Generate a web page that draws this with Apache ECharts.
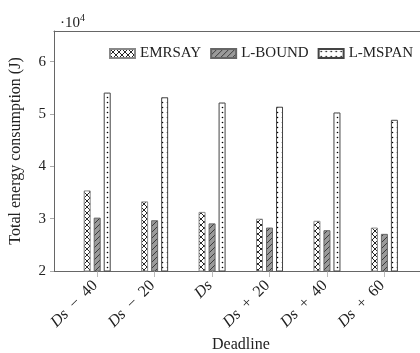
<!DOCTYPE html>
<html>
<head>
<meta charset="utf-8">
<script src="https://cdn.jsdelivr.net/npm/echarts@6/dist/echarts.min.js"></script>
<style>html,body{margin:0;padding:0;background:#fff}#c{width:420px;height:353px}</style>
</head>
<body>
<div id="c"></div>
<script>
// ---- data (values in units of 10^4 J) ----
var categories = ['Ds − 40', 'Ds − 20', 'Ds', 'Ds + 20', 'Ds + 40', 'Ds + 60'];
var seriesNames = ['EMRSAY', 'L-BOUND', 'L-MSPAN'];
var emrsay = [3.54, 3.33, 3.13, 3.00, 2.96, 2.83];
var lbound = [3.02, 2.97, 2.91, 2.83, 2.78, 2.71];
var lmspan = [5.41, 5.32, 5.22, 5.14, 5.03, 4.89];
var yTicks = [2, 3, 4, 5, 6];

// ---- patterns ----
function tile(w, h, draw) {
  var c = document.createElement('canvas');
  c.width = w; c.height = h;
  var g = c.getContext('2d');
  draw(g, w, h);
  return { image: c, repeat: 'repeat' };
}
var crossPat = tile(6, 6, function (g, w, h) {
  g.fillStyle = '#fff'; g.fillRect(0, 0, w, h);
  g.strokeStyle = '#111'; g.lineWidth = 0.9;
  g.beginPath(); g.moveTo(0, 0); g.lineTo(w, h); g.moveTo(w, 0); g.lineTo(0, h); g.stroke();
});
var linePat = tile(6, 6, function (g, w, h) {
  g.fillStyle = '#9a9a9a'; g.fillRect(0, 0, w, h);
  g.strokeStyle = '#222'; g.lineWidth = 0.8;
  g.beginPath(); g.moveTo(-1, h + 1); g.lineTo(w + 1, -1); g.stroke();
});
var dotPat = tile(5, 5, function (g, w, h) {
  g.fillStyle = '#fff'; g.fillRect(0, 0, w, h);
  g.fillStyle = '#000';
  g.beginPath(); g.arc(2.5, 2.5, 0.8, 0, Math.PI * 2); g.fill();
});

function toPairs(arr) { return arr.map(function (v, i) { return [i, v]; }); }

var FONT = 'Liberation Serif';
var chart = echarts.init(document.getElementById('c'), null, { renderer: 'canvas' });

var option = {
  animation: false,
  backgroundColor: '#fff',
  textStyle: { fontFamily: FONT, color: '#222' },
  grid: { left: 53, right: 0, top: 31, bottom: 82, containLabel: false },
  title: {
    text: '{a|·10}{b|4}', left: 55, top: 8,
    textStyle: { fontWeight: 'normal', rich: {
      a: { fontFamily: FONT, fontSize: 15, fontWeight: 'normal', color: '#222', verticalAlign: 'bottom' },
      b: { fontFamily: FONT, fontSize: 10, fontWeight: 'normal', color: '#222', verticalAlign: 'top', padding: [0, 0, 8, 0] }
    } }
  },
  legend: {
    left: 104, top: 41, width: 330, itemWidth: 25, itemHeight: 9, itemGap: 9,
    textStyle: { fontFamily: FONT, fontSize: 15, color: '#222' },
    icon: 'rect',
    data: seriesNames
  },
  xAxis: [{
    type: 'value', min: -0.752, max: 5.62,
    axisLine: { show: true, onZero: false, lineStyle: { color: '#666', width: 1 } },
    splitLine: { show: false },
    axisTick: { show: true, customValues: [0, 1, 2, 3, 4, 5], length: 6, lineStyle: { color: '#bbb' } },
    axisLabel: {
      customValues: [0, 1, 2, 3, 4, 5], rotate: 45, margin: 10,
      fontFamily: FONT, fontSize: 16, color: '#222', padding: [0, 3, 0, 0],
      formatter: function (v) {
        var s = categories[Math.round(v)] || '';
        return s.replace(/^Ds/, '{i|Ds}').replace(/ /g, '\u2002');
      },
      rich: { i: { fontFamily: FONT, fontStyle: 'italic', fontSize: 16, color: '#222' } }
    }
  }, {
    type: 'value', position: 'top', min: -0.752, max: 5.62,
    axisLine: { show: true, onZero: false, lineStyle: { color: '#666', width: 1 } },
    axisTick: { show: false }, axisLabel: { show: false }, splitLine: { show: false }
  }],
  yAxis: {
    type: 'value', min: 2, max: 6.587, interval: 1,
    axisLine: { show: true, onZero: false, lineStyle: { color: '#666', width: 1 } },
    axisTick: { show: true, length: 4, customValues: yTicks, lineStyle: { color: '#aaa' } },
    splitLine: { show: false },
    axisLabel: { customValues: yTicks, margin: 8, fontFamily: FONT, fontSize: 15, color: '#222' },
    name: 'Total energy consumption (J)', nameLocation: 'middle', nameGap: 30,
    nameTextStyle: { fontFamily: FONT, fontSize: 16, color: '#222' }
  },
  graphic: [{
    type: 'text', left: 212, top: 337,
    style: { text: 'Deadline', font: '16px "Liberation Serif"', fill: '#222' }
  }],
  series: [
    { name: seriesNames[0], type: 'bar', data: toPairs(emrsay), barWidth: 7, barGap: '43%',
      itemStyle: { color: crossPat, borderColor: '#888', borderWidth: 1 } },
    { name: seriesNames[1], type: 'bar', data: toPairs(lbound), barWidth: 7, barGap: '43%',
      itemStyle: { color: linePat, borderColor: '#666', borderWidth: 1 } },
    { name: seriesNames[2], type: 'bar', data: toPairs(lmspan), barWidth: 7, barGap: '43%',
      itemStyle: { color: dotPat, borderColor: '#444', borderWidth: 1 } }
  ]
};
chart.setOption(option);
</script>
</body>
</html>
